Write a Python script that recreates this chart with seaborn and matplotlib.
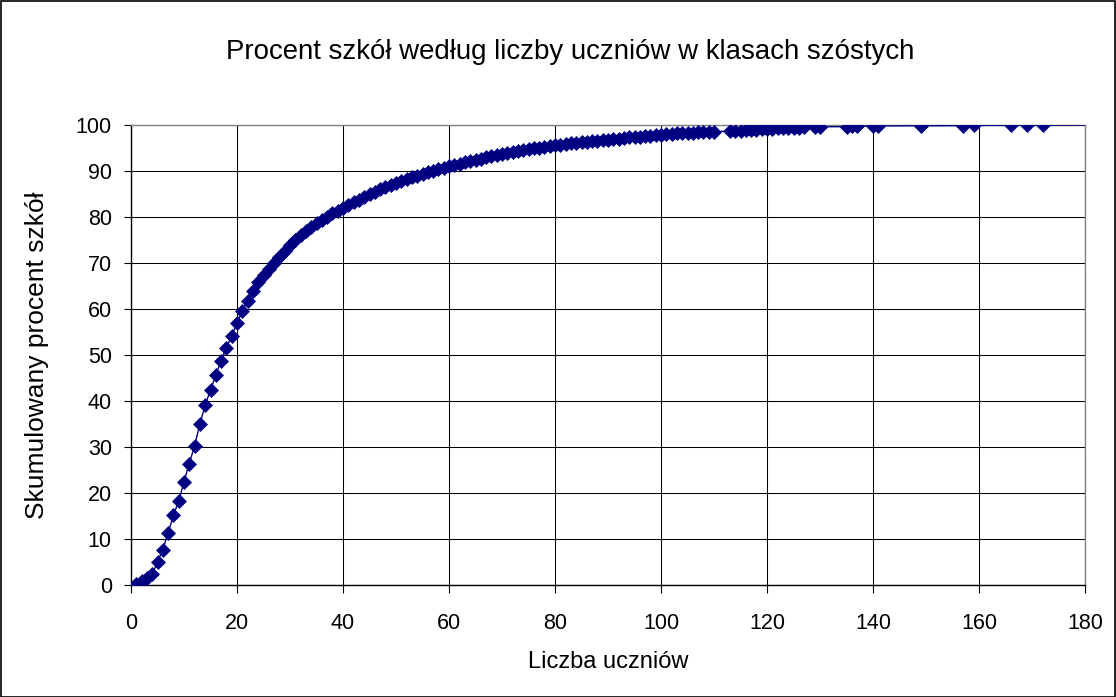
import matplotlib
matplotlib.use("Agg")
import matplotlib.pyplot as plt
import seaborn as sns
import pandas as pd
from matplotlib.patches import Rectangle

# Liczba uczniów (x) and cumulative percent of schools (y)
students = [1, 2, 3, 4, 5, 6, 7, 8, 9, 10,
            11, 12, 13, 14, 15, 16, 17, 18, 19, 20,
            21, 22, 23, 24, 25, 26, 27, 28, 29, 30,
            31, 32, 33, 34, 35, 36, 37, 38, 39, 40,
            41, 42, 43, 44, 45, 46, 47, 48, 49, 50,
            51, 52, 53, 54, 55, 56, 57, 58, 59, 60,
            61, 62, 63, 64, 65, 66, 67, 68, 69, 70,
            71, 72, 73, 74, 75, 76, 77, 78, 79, 80,
            81, 82, 83, 84, 85, 86, 87, 88, 89, 90,
            91, 92, 93, 94, 95, 96, 97, 98, 99, 100,
            101, 102, 103, 104, 105, 106, 107, 108, 109, 110,
            113, 114, 115, 116, 117, 118, 119, 120, 121, 122,
            123, 124, 125, 126, 127, 129, 130, 135, 136, 137,
            140, 141, 149, 157, 159, 166, 169, 172, 190]
cum_percent = [0.3, 0.8, 1.6, 2.4, 5.0, 7.7, 11.3, 15.2, 18.2, 22.5,
               26.4, 30.3, 35.0, 39.1, 42.4, 45.6, 48.8, 51.6, 54.2, 57.0,
               59.6, 61.8, 64.0, 65.9, 67.4, 68.7, 70.0, 71.3, 72.7, 74.0,
               75.0, 76.0, 76.9, 77.8, 78.6, 79.4, 80.1, 80.8, 81.4, 82.0,
               82.6, 83.2, 83.8, 84.4, 84.9, 85.5, 86.0, 86.5, 87.0, 87.4,
               87.8, 88.2, 88.6, 89.0, 89.4, 89.7, 90.0, 90.4, 90.7, 91.0,
               91.3, 91.6, 91.9, 92.2, 92.5, 92.7, 93.0, 93.2, 93.5, 93.7,
               93.9, 94.1, 94.3, 94.5, 94.7, 94.9, 95.0, 95.2, 95.4, 95.6,
               95.7, 95.8, 96.0, 96.1, 96.2, 96.4, 96.5, 96.6, 96.7, 96.8,
               96.9, 97.0, 97.1, 97.3, 97.4, 97.5, 97.6, 97.7, 97.8, 97.9,
               98.1, 98.15, 98.2, 98.25, 98.3, 98.35, 98.4, 98.45, 98.5, 98.55,
               98.7, 98.75, 98.8, 98.9, 98.95, 99.0, 99.1, 99.15, 99.2, 99.25,
               99.3, 99.35, 99.4, 99.45, 99.5, 99.55, 99.6, 99.65, 99.7, 99.72,
               99.75, 99.8, 99.83, 99.86, 99.9, 99.92, 99.94, 99.96, 100.0]

x_ticks = [0, 20, 40, 60, 80, 100, 120, 140, 160, 180]
y_ticks = [0, 10, 20, 30, 40, 50, 60, 70, 80, 90, 100]

title = "Procent szkół według liczby uczniów w klasach szóstych"
x_label = "Liczba uczniów"
y_label = "Skumulowany procent szkół"

sns.set_theme(style="white")
plt.rcParams['font.family'] = ['Liberation Sans', 'DejaVu Sans']

W, H = 1116, 697
fig = plt.figure(figsize=(W / 100, H / 100), dpi=100)
fig.patch.set_facecolor("white")
ax = fig.add_axes([131 / W, 1 - 585 / H, (1085 - 131) / W, (585 - 125) / H])

df = pd.DataFrame({"x": students, "y": cum_percent})
sns.lineplot(data=df, x="x", y="y", ax=ax, color="#000080", linewidth=1.0,
             marker="D", markersize=7, markeredgecolor="#000080",
             markeredgewidth=0.5, sort=False, estimator=None, zorder=3)

ax.set_xlim(0, 180)
ax.set_ylim(0, 100)
ax.set_xticks(x_ticks)
ax.set_yticks(y_ticks)
ax.set_xticklabels([str(v) for v in x_ticks])
ax.set_yticklabels([str(v) for v in y_ticks])
ax.grid(True, color="black", linewidth=0.75)
ax.set_axisbelow(True)
for s in ["top", "right"]:
    ax.spines[s].set_color("#808080")
    ax.spines[s].set_linewidth(1.0)
for s in ["left", "bottom"]:
    ax.spines[s].set_color("black")
    ax.spines[s].set_linewidth(1.0)
ax.tick_params(axis="both", which="major", direction="out", length=5.4, width=0.8,
               color="black", labelsize=15.5, labelcolor="black",
               bottom=True, left=True)
ax.tick_params(axis="x", pad=14.5)
ax.tick_params(axis="y", pad=8.4)

ax.set_xlabel("")
ax.set_ylabel("")
fig.text(608 / W, 1 - 662 / H, x_label, ha="center", va="center", fontsize=17, color="black")
fig.text(37 / W, 1 - 355 / H, y_label, ha="center", va="center", rotation=90, fontsize=19, color="black")
fig.text(570 / W, 1 - 52 / H, title, ha="center", va="center", fontsize=19.9, color="black")

fig.patches.append(Rectangle((0.5 / W, 0.5 / H), (W - 1.5) / W, (H - 1.5) / H,
                             transform=fig.transFigure, fill=False,
                             edgecolor="black", linewidth=1.2))

fig.savefig("out.png", dpi=100)
